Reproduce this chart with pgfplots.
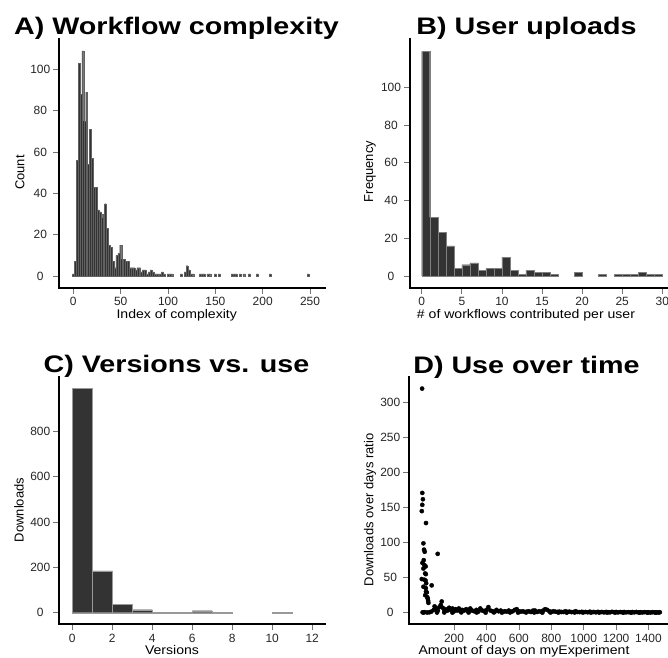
\documentclass[border=0pt]{standalone}
\usepackage{fontspec}
\setmainfont{Liberation Sans}
\usepackage{pgfplots}
\pgfplotsset{compat=1.18}

\pgfplotsset{
  rstyle/.style={
    scale only axis,
    anchor=south west,
    axis x line*=bottom,
    axis y line*=left,
    axis line style={draw=none},
    tick align=outside,
    major tick length=6bp,
    tick style={black!55, line width=0.7bp},
    tick label style={font=\fontsize{12}{13}\selectfont, text=black!85},
    yticklabel style={anchor=center, xshift=-13bp},
    /pgf/number format/assume math mode=true,
    /pgf/number format/1000 sep={},
    scaled ticks=false,
    minor tick num=0,
    clip=false,
    after end axis/.code={
      \draw[line width=2.2bp, black, line cap=rect]
        (rel axis cs:0,1) -- (rel axis cs:0,0) -- (rel axis cs:1,0);
    },
  },
  rbar/.style={ybar, fill=black!80, draw=black!50, line width=0.25bp},
}

\begin{document}
\begin{tikzpicture}[x=1bp,y=1bp]
\path[use as bounding box] (0,0) rectangle (668,658);

% ---------------- A ----------------
\begin{axis}[rstyle, at={(59.3bp,370.3bp)}, width=265.7bp, height=248.9bp,
  xmin=-14.8, xmax=265.8, ymin=-5.66, ymax=114.8,
  xtick={0,50,100,150,200,250}, ytick={0,20,40,60,80,100}]
\addplot[rbar, draw=black!62, line width=0.15bp, bar width=2] coordinates {
(0,1) (2,7) (4,56) (6,103) (8,88) (10,109) (12,75) (14,89) (16,54) (18,71)
(20,57) (22,43) (24,43) (26,32) (28,31) (30,30) (32,28) (34,35) (36,23) (38,15)
(40,14) (42,7) (44,4) (46,10) (48,11) (50,15) (52,8) (54,8) (56,7) (58,7)
(60,4) (62,4) (64,4) (66,3) (68,4) (70,4) (72,2) (74,3) (76,3) (78,1)
(80,2) (82,3) (84,2) (86,1) (88,1) (90,1) (92,1) (94,2) (96,1) (100,1)
(102,1) (104,1) (114,1) (118,2) (120,5) (122,3) (124,1) (126,1) (134,1) (136,1)
(138,1) (142,1) (144,1) (150,1) (154,1) (168,1) (170,1) (172,1) (176,1) (180,1)
(186,1) (194,1) (208,1) (248,1)
};
\end{axis}

% ---------------- B ----------------
\begin{axis}[rstyle, at={(410bp,370.3bp)}, width=261bp, height=248.9bp,
  xmin=-1.46, xmax=31.08, ymin=-6.2, ymax=125.7,
  xtick={0,5,10,15,20,25,30}, ytick={0,20,40,60,80,100}]
\addplot[rbar, bar width=1] coordinates {
(0.5,119) (1.5,31) (2.5,23) (3.5,16) (4.5,4) (5.5,6) (6.5,7) (7.5,3) (8.5,4) (9.5,4)
(10.5,10) (11.5,3) (12.5,1) (13.5,3) (14.5,2) (15.5,2) (16.5,1) (19.5,2) (22.5,1)
(24.5,1) (25.5,1) (26.5,1) (27.5,2) (28.5,1) (29.5,1)
};
\end{axis}

% ---------------- C ----------------
\begin{axis}[rstyle, at={(59.3bp,33.7bp)}, width=265.7bp, height=247.6bp,
  xmin=-0.65, xmax=12.64, ymin=-51.2, ymax=1041,
  xtick={0,2,4,6,8,10,12}, ytick={0,200,400,600,800}]
\addplot[rbar, draw=black!40, bar width=1] coordinates {
(0.5,990) (1.5,185) (2.5,37) (3.5,13) (4.5,3) (5.5,2) (6.5,9) (7.5,1) (10.5,1)
};
\end{axis}

% ---------------- D ----------------
\begin{axis}[rstyle, at={(409.3bp,33.7bp)}, width=261.7bp, height=247.6bp,
  xmin=-76, xmax=1539, ymin=-16.6, ymax=337,
  xtick={200,400,600,800,1000,1200,1400}, ytick={0,50,100,150,200,250,300}]
\addplot[only marks, mark=*, mark size=2.1bp, black] table {
x y
3 320
4 171
8 162
4 154
1 145
27 128
11 99
15 90
19 87
99 84
13 75
5 71
17 68
11 63
25 66
22 56
26 55
1 48
17 47
24 46
28 42
11 37
26 35
62 39
32 29
27 30
22 25
35 22
38 20
40 17
42 14
6 0.5
12 0.3
20 0.8
35 0.2
48 0.6
60 1.5
75 4
80 9
90 6
100 3
110 8
118 11
124 16
130 7
140 2
150 5
160 3
170 7
180 4
190 6
200 2
210 5
220 3
230 6
240 2
250 4
262 3
275 5
288 2
300 6
312 3
325 2
338 4
350 1.5
362 6
375 3
388 2
400 4
412 8
425 3
438 2
450 1
462 4
475 2
488 3
500 1
512 2
525 1.5
538 3
550 1
562 2
575 4
587 5
600 2
612 1.5
625 2
638 1
650 1.5
662 2
675 1
688 3
700 3
712 1
725 2
738 1.5
750 3
762 5
775 4
788 2
800 1
812 2
825 1.5
838 1
850 1.5
862 1
875 1
888 2
900 1
912 1.5
925 0.8
938 1
950 2
962 1
975 0.8
988 1.2
1000 0.8
1012 1
1025 0.6
1038 1.4
1050 0.8
1062 1
1075 0.5
1088 1.2
1100 0.7
1112 1
1125 0.4
1138 1
1150 0.8
1162 0.5
1175 1.2
1188 0.6
1200 1
1212 0.4
1225 0.9
1238 0.6
1250 1
1262 0.5
1275 0.8
1288 0.3
1300 0.9
1312 0.5
1325 1
1338 0.4
1350 0.7
1362 0.3
1375 0.8
1388 0.5
1400 0.6
1412 0.2
1425 0.7
1438 0.4
1450 0.5
1462 0.2
1470 0.6
95 0.2
140 0.3
190 0.1
245 0.4
290 0.2
340 0.3
395 0.1
445 0.4
495 0.2
545 0.3
595 0.1
645 0.3
695 0.2
745 0.1
795 0.3
845 0.2
895 0.1
945 0.3
995 0.2
1045 0.1
1095 0.2
1145 0.1
1195 0.2
1245 0.1
1295 0.2
1345 0.1
1395 0.2
1445 0.1
};
\end{axis}

% ---------------- titles and labels ----------------
\tikzset{ttl/.style={anchor=base, xscale=1.2, font=\fontsize{24}{26}\selectfont\bfseries},
         xl/.style={anchor=base, xscale=1.12, font=\fontsize{12.6}{14}\selectfont},
         yl/.style={anchor=center, rotate=90, font=\fontsize{13}{14}\selectfont}}
\node[ttl] at (176.5,623) {A) Workflow complexity};
\node[ttl] at (526.5,623.7) {B) User uploads};
\node[ttl] at (176.5,285.3) {C) Versions vs. use};
\node[ttl] at (526.5,284.7) {D) Use over time};

\node[xl] at (176.7,339.7) {Index of complexity};
\node[xl] at (526,339.7) {\# of workflows contributed per user};
\node[xl] at (172,3) {Versions};
\node[xl] at (524,3) {Amount of days on myExperiment};

\node[yl] at (20,485.5) {Count};
\node[yl] at (370,486.5) {Frequency};
\node[yl] at (19,148) {Downloads};
\node[yl] at (370,148) {Downloads over days ratio};
\end{tikzpicture}
\end{document}
